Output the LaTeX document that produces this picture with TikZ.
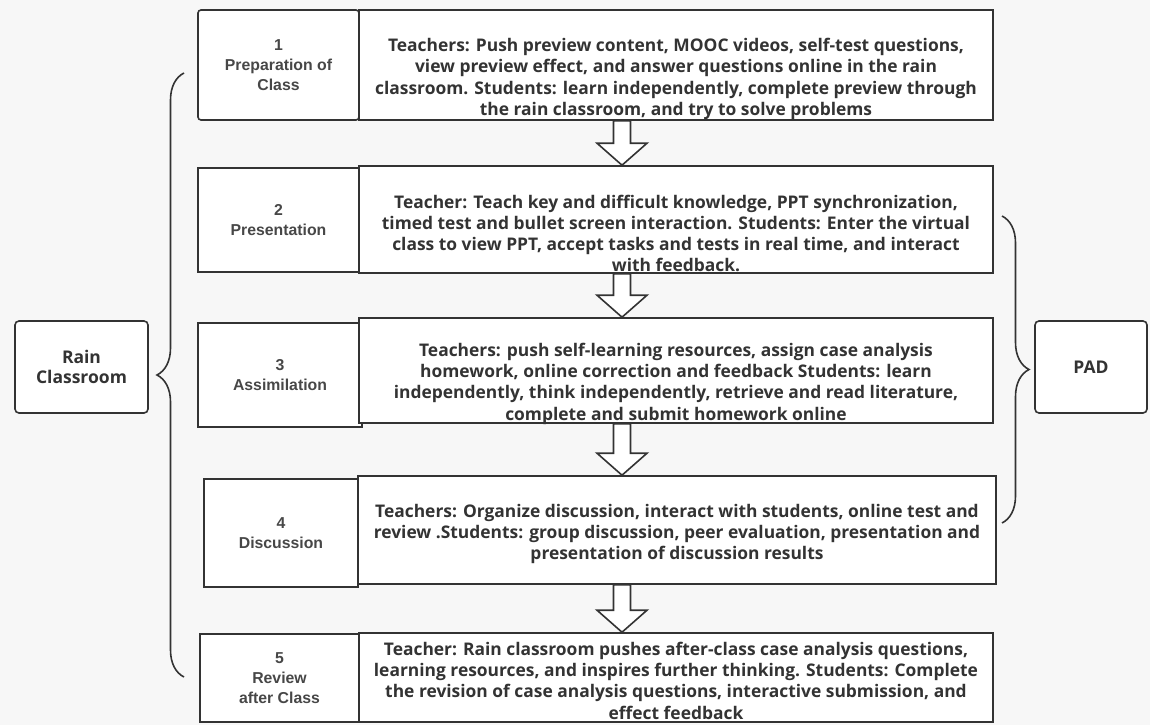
\documentclass[tikz,border=0pt]{standalone}
\usepackage{fontspec}
\setmainfont{Open Sans}
\newfontfamily\arialfont{Liberation Sans}
\usetikzlibrary{calc,decorations.pathreplacing}
\definecolor{lineC}{HTML}{333333}
\definecolor{bgC}{HTML}{F7F7F7}
\tikzset{
  cell/.style={draw=lineC, line width=1.6pt, fill=white, inner sep=0pt},
  stage/.style={cell, font=\arialfont\bfseries\fontsize{15.8}{20}\selectfont, text=lineC!90, align=center},
  desc/.style={font=\bfseries\fontsize{17.4}{21.3}\selectfont, text=lineC, align=center, inner sep=0pt},
  side/.style={cell, rounded corners=4pt, minimum width=112pt, minimum height=92pt, font=\bfseries\fontsize{17.5}{20}\selectfont, text=lineC, align=center},
  fat/.style={draw=lineC, line width=1.6pt, fill=white, line join=miter},
  brc/.style={draw=lineC, line width=1.6pt, decorate, decoration={brace, amplitude=27pt}},
}
\newcommand{\fatarrow}[2]{\draw[fat] let \p1=(ax |- #1.south), \p2=(ax |- #2.north) in
  (\x1-8.5pt,\y1) -- (\x1+8.5pt,\y1) -- (\x1+8.5pt,\y2+22pt) -- (\x1+25pt,\y2+22pt) -- (\x2,\y2) -- (\x1-25pt,\y2+22pt) -- (\x1-8.5pt,\y2+22pt) -- cycle;}
\begin{document}
\begin{tikzpicture}[x=1pt, y=-1pt]
\fill[bgC] (0,0) rectangle (1150,725);
\useasboundingbox (0,0) rectangle (1150,725);

% stages on the left
\node[stage, rounded corners=3pt, minimum width=161pt, minimum height=110pt] (s1) at (278.5,65) {1\\Preparation of\\Class};
\node[stage, minimum width=161pt, minimum height=104pt] (s2) at (278.5,220) {2\\Presentation};
\node[stage, minimum width=164pt, minimum height=104pt] (s3) at (280,375) {3\\Assimilation};
\node[stage, minimum width=154pt, minimum height=108pt] (s4) at (281,533) {4\\Discussion};
\node[stage, minimum width=159pt, minimum height=88pt] (s5) at (279.5,678) {5\\Review\\after Class};

% activity boxes
\node[cell, minimum width=634pt, minimum height=110pt] (r1) at (676,65) {};
\node[cell, minimum width=634pt, minimum height=107pt] (r2) at (676,219.5) {};
\node[cell, minimum width=634pt, minimum height=105pt] (r3) at (676,370.5) {};
\node[cell, minimum width=638pt, minimum height=108pt] (r4) at (677,530) {};
\node[cell, minimum width=634pt, minimum height=89pt] (r5) at (676,677.5) {};

\node[desc] (t1) at ([yshift=-14pt]r1.center) {Teachers: Push preview content, MOOC videos, self-test questions,\\view preview effect, and answer questions online in the rain\\classroom. Students: learn independently, complete preview through\\the rain classroom, and try to solve problems};
\node[desc] (t2) at ([yshift=-14pt]r2.center) {Teacher: Teach key and difficult knowledge, PPT synchronization,\\timed test and bullet screen interaction. Students: Enter the virtual\\class to view PPT, accept tasks and tests in real time, and interact\\with feedback.};
\node[desc] (t3) at ([yshift=-13pt]r3.center) {Teachers: push self-learning resources, assign case analysis\\homework, online correction and feedback Students: learn\\independently, think independently, retrieve and read literature,\\complete and submit homework online};
\node[desc] (t4) at ([yshift=-4pt]r4.center) {Teachers: Organize discussion, interact with students, online test and\\review .Students: group discussion, peer evaluation, presentation and\\presentation of discussion results};
\node[desc] (t5) at ([yshift=-3pt]r5.center) {Teacher: Rain classroom pushes after-class case analysis questions,\\learning resources, and inspires further thinking. Students: Complete\\the revision of case analysis questions, interactive submission, and\\effect feedback};

% block arrows
\coordinate (ax) at (622,0);
\fatarrow{r1}{r2}
\fatarrow{r2}{r3}
\fatarrow{r3}{r4}
\fatarrow{r4}{r5}

% side boxes and braces
\node[side, minimum width=133pt] (rain) at (81.5,367) {Rain\\Classroom};
\node[side] (pad) at (1091,367) {PAD};
\coordinate (lb1) at (184,677);
\coordinate (lb2) at (184,73);
\coordinate (rb1) at (1002,216);
\coordinate (rb2) at (1002,523);
\draw[brc] (lb1) -- (lb2);
\draw[brc] (rb1) -- (rb2);

\end{tikzpicture}
\end{document}
